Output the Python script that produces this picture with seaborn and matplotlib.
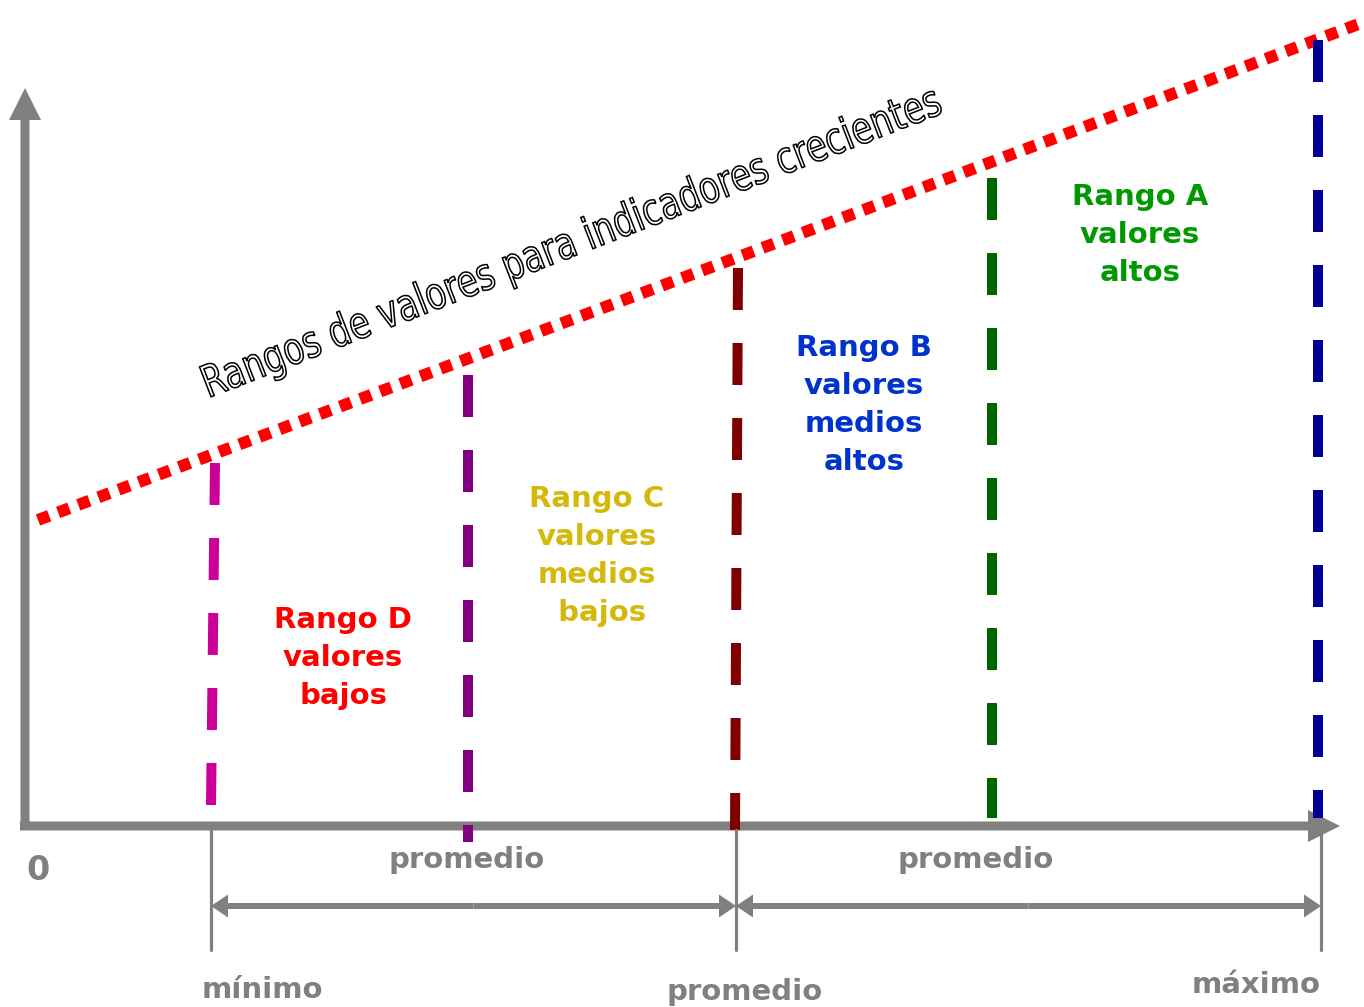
import numpy as np
import pandas as pd
import matplotlib.pyplot as plt
from matplotlib.patches import FancyArrow, PathPatch
from matplotlib.textpath import TextPath
from matplotlib.font_manager import FontProperties
from matplotlib.transforms import Affine2D
import seaborn as sns

# Threshold lines (pixel layout of the diagram, y grows downwards)
line_names = ["mínimo", "promedio bajo", "promedio", "promedio alto", "máximo"]
line_x_top = [215, 468, 738, 992, 1318]
line_x_bottom = [211, 468, 735, 992, 1318]
line_top = [463, 375, 268, 178, 40]
line_bottom = [805, 842, 830, 818, 818]
line_colors = ["#CC0099", "#800080", "#800000", "#006600", "#000099"]

# Increasing trend line
trend_x = [38, 1364]
trend_y = [520, 22]

# Range labels
range_labels = ["Rango D\nvalores\nbajos",
                "Rango C\nvalores\nmedios\n bajos",
                "Rango B\nvalores\nmedios\naltos",
                "Rango A\nvalores\naltos"]
range_x = [343, 597, 864, 1140]
range_y = [606, 485, 334, 183]
range_colors = ["#FF0000", "#D4B90C", "#0033CC", "#009900"]

# Bottom scale
scale_x = [211, 736, 1321]
scale_labels = ["mínimo", "promedio", "máximo"]
scale_label_x = [262, 745, 1256]
scale_label_y = [990, 992, 985]
span_labels = ["promedio", "promedio"]
span_label_x = [467, 976]

title = "Rangos de valores para indicadores crecientes"

GRAY = "#808080"
W, H = 1364, 1007

sns.set_theme(style="white")
plt.rcParams['font.family'] = ['DejaVu Sans']

fig = plt.figure(figsize=(W / 100, H / 100), dpi=100)
ax = fig.add_axes([0, 0, 1, 1])
ax.set_xlim(0, W)
ax.set_ylim(H, 0)
ax.axis("off")

# axes arrows
ax.add_patch(FancyArrow(25, 830, 0, -742, width=9, head_width=32, head_length=32,
                        length_includes_head=True, color=GRAY, lw=0))
ax.add_patch(FancyArrow(20, 826, 1320, 0, width=9, head_width=32, head_length=32,
                        length_includes_head=True, color=GRAY, lw=0))

# red dotted trend
trend = pd.DataFrame({"x": trend_x, "y": trend_y})
sns.lineplot(data=trend, x="x", y="y", ax=ax, color="#FF0000", lw=8.6,
             linestyle=(0, (1.0, 0.8)))
ax.lines[-1].set_dash_capstyle("butt")

# threshold dashed lines
for xt, xb, yt, yb, c in zip(line_x_top, line_x_bottom, line_top, line_bottom, line_colors):
    ax.plot([xt, xb], [yt, yb], color=c, lw=7.2, linestyle=(0, (4.2, 3.3)),
            dash_capstyle="butt")

# rotated outlined title, stretched tall and narrow
tp = TextPath((0, 0), title, size=1, prop=FontProperties(family="DejaVu Sans"))
bb = tp.get_extents()
target_len = 785
sx = target_len / bb.width
sy = sx * 1.3
tr = Affine2D().scale(sx, -sy).rotate_deg(-21.2).translate(208, 398)
ax.add_patch(PathPatch(tr.transform_path(tp), facecolor="white", edgecolor="black",
                       lw=1.1))

# range labels
for lab, x, y, c in zip(range_labels, range_x, range_y, range_colors):
    ax.text(x, y, lab, color=c, fontsize=21, fontweight="bold", ha="center",
            va="top", linespacing=1.45)

# bottom scale
ax.text(38, 870, "0", color=GRAY, fontsize=24, fontweight="bold", ha="center", va="center")
for x in scale_x:
    ax.plot([x, x], [830, 950], color=GRAY, lw=2.3)
for lab, x, y in zip(scale_labels, scale_label_x, scale_label_y):
    ax.text(x, y, lab, color=GRAY, fontsize=21, fontweight="bold", ha="center", va="center")
for i in range(2):
    x0, x1 = scale_x[i], scale_x[i + 1]
    mid = (x0 + x1) / 2
    for end in (x0, x1):
        ax.add_patch(FancyArrow(mid, 906, end - mid, 0, width=6, head_width=23,
                                head_length=17, length_includes_head=True,
                                color=GRAY, lw=0))
    ax.text(span_label_x[i], 860, span_labels[i], color=GRAY, fontsize=21,
            fontweight="bold", ha="center", va="center")

fig.savefig("out.png", dpi=100, facecolor="white")
